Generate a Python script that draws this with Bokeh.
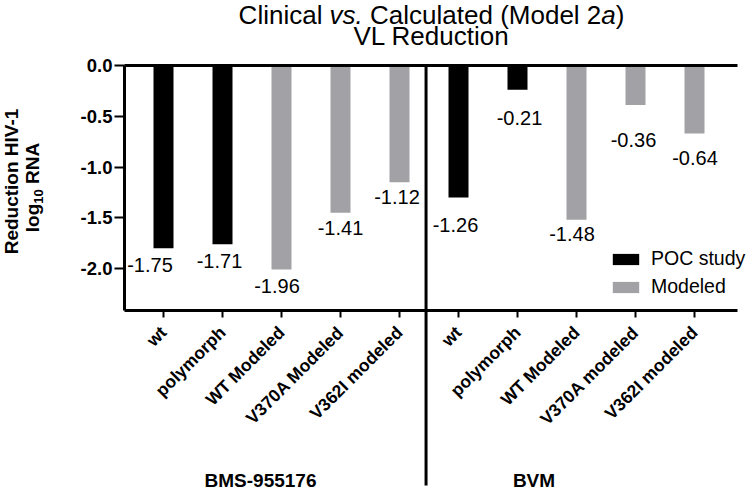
import math
from bokeh.plotting import figure
from bokeh.models import (Range1d, LinearAxis, FixedTicker, PrintfTickFormatter,
                          Legend, LegendItem, ColumnDataSource, Grid)
from bokeh.core.properties import value
from bokeh.embed import file_html
from bokeh.resources import INLINE

# ---------------- data ----------------
categories = ["wt", "polymorph", "WT Modeled", "V370A Modeled", "V362I modeled",
              "wt", "polymorph", "WT Modeled", "V370A modeled", "V362I modeled"]
groups = ["BMS-955176", "BVM"]
series = ["POC study", "POC study", "Modeled", "Modeled", "Modeled",
          "POC study", "POC study", "Modeled", "Modeled", "Modeled"]
bar_values = [-1.80, -1.76, -2.01, -1.45, -1.15, -1.30, -0.24, -1.52, -0.39, -0.67]
value_labels = ["-1.75", "-1.71", "-1.96", "-1.41", "-1.12",
                "-1.26", "-0.21", "-1.48", "-0.36", "-0.64"]
y_ticks = [0.0, -0.5, -1.0, -1.5, -2.0]
series_names = ["POC study", "Modeled"]
series_colors = ["#000000", "#A2A2A6"]

# ---------------- layout (reference pixel frame) ----------------
W, H = 748, 489
X0_REF, XU_REF = 163.0, 59.0      # first category tick, px per category
Y0_REF, YU_REF = 65.0, 101.5      # zero line, px per unit


def rx(X):
    return (X - X0_REF) / XU_REF


def ry(Y):
    return -(Y - Y0_REF) / YU_REF


FONT = "Liberation Sans"
positions = list(range(len(categories)))

p = figure(width=W, height=H, output_backend="svg", toolbar_location=None,
           x_range=Range1d(rx(0), rx(W)), y_range=Range1d(ry(H), ry(0)),
           x_axis_location=None, y_axis_location=None, title=None,
           min_border=0, min_border_left=0, min_border_right=0,
           min_border_top=0, min_border_bottom=0, outline_line_color=None)
p.background_fill_color = "white"
p.border_fill_color = "white"
p.center = [r for r in p.center if not isinstance(r, Grid)]
p.renderers = [r for r in p.renderers if not isinstance(r, Grid)]

# bars
renderers = []
for name, color in zip(series_names, series_colors):
    idx = [i for i, s in enumerate(series) if s == name]
    src = ColumnDataSource(dict(x=[positions[i] for i in idx],
                                v=[bar_values[i] for i in idx]))
    r = p.vbar(x="x", top=0, bottom="v", width=20 / XU_REF, source=src,
               fill_color=color, line_color=None)
    renderers.append(r)

# value labels
label_dx = [-13.5, -3, -4.5, 0, -2.5, -3, 2, -4.5, -2, 0.5]
label_dy = [17, 17, 16, 15, 14.5, 28, 28, 14, 35, 24]
p.text(x=positions, y=bar_values, text=value_labels,
       x_offset=label_dx, y_offset=label_dy,
       text_font=value(FONT), text_font_size="20px", text_color="black",
       text_align="center", text_baseline="middle")

# zero line and group divider
p.segment(x0=[rx(124)], y0=[0], x1=[rx(737)], y1=[0], line_color="black", line_width=3)
p.segment(x0=[4.45], y0=[0], x1=[4.45], y1=[ry(485)], line_color="black", line_width=3)

# y axis
yaxis = LinearAxis(fixed_location=rx(124), bounds=(ry(310), 0),
                   ticker=FixedTicker(ticks=y_ticks),
                   formatter=PrintfTickFormatter(format="%.1f"),
                   axis_line_width=3, axis_line_color="black",
                   major_tick_line_width=2, major_tick_out=10, major_tick_in=0,
                   minor_tick_line_color=None,
                   major_label_text_font=FONT, major_label_text_font_style="bold",
                   major_label_text_font_size="18.5px", major_label_standoff=2,
                   major_label_text_color="black")
p.add_layout(yaxis, "left")

# x axis
xaxis = LinearAxis(fixed_location=ry(310), bounds=(rx(124), rx(737)),
                   ticker=FixedTicker(ticks=positions),
                   major_label_overrides={i: c for i, c in zip(positions, categories)},
                   major_label_orientation=math.pi / 4,
                   axis_line_width=3, axis_line_color="black",
                   major_tick_line_width=2, major_tick_out=7, major_tick_in=0,
                   minor_tick_line_color=None,
                   major_label_text_font=FONT, major_label_text_font_style="bold",
                   major_label_text_font_size="17.5px", major_label_standoff=12,
                   major_label_text_color="black")
p.add_layout(xaxis, "below")

# group labels
p.text(x=[rx(260), rx(533.5)], y=[ry(479.5), ry(479.5)], text=groups,
       text_font=value(FONT), text_font_style="bold", text_font_size="19px",
       text_align="center", text_baseline="middle", text_color="black")

# ---- text width helpers (Arial / Liberation Sans metrics) ----
REG = {'C': 722, 'l': 222, 'i': 222, 'n': 556, 'c': 500, 'a': 556, ' ': 278, 'v': 500,
       's': 500, '.': 278, 'u': 556, 't': 278, 'e': 556, 'd': 556, '(': 333, 'M': 833,
       'o': 556, '2': 556, ')': 333}
BOLD = {'l': 278, 'o': 611, 'g': 611, '1': 556, '0': 556, ' ': 278, 'R': 722, 'N': 722, 'A': 722}


def tw(s, size, table):
    return sum(table[ch] for ch in s) * size / 1000.0


def lead(s, size, table):
    n = len(s) - len(s.lstrip(" "))
    return n * table[' '] * size / 1000.0


# ---- title (mixed upright / italic pieces) ----
title_size = 26.0
title_runs = ["Clinical ", "vs.", " Calculated (Model 2", "a", ")"]
title_styles = ["normal", "italic", "normal", "italic", "normal"]
widths = [tw(s, title_size, REG) for s in title_runs]
acc = -sum(widths) / 2
offs = []
for s, w_ in zip(title_runs, widths):
    offs.append(acc + lead(s, title_size, REG))
    acc += w_
tcx = rx(431)
p.text(x=[tcx] * len(title_runs), y=[ry(14)] * len(title_runs),
       text=[s.strip() for s in title_runs],
       x_offset=offs, text_font=value(FONT), text_font_style=title_styles,
       text_font_size="%.1fpx" % title_size, text_align="left", text_baseline="middle",
       text_color="black")
p.text(x=[tcx], y=[ry(35)], text=["VL Reduction"], text_font=value(FONT),
       text_font_size="%.1fpx" % title_size, text_align="center",
       text_baseline="middle", text_color="black")

# ---- y axis title (rotated, with subscript) ----
ysize = 19.0
p.text(x=[rx(10.5)], y=[ry(181)], text=["Reduction HIV-1"], angle=math.pi / 2,
       text_font=value(FONT), text_font_style="bold", text_font_size="%.1fpx" % ysize,
       text_align="center", text_baseline="middle", text_color="black")
sub_size = 13.0
l2 = ["log", "10", " RNA"]
l2_sizes = [ysize, sub_size, ysize]
l2_w = [tw(s, sz, BOLD) for s, sz in zip(l2, l2_sizes)]
acc = sum(l2_w) / 2
yoffs = []
for s, sz, w_ in zip(l2, l2_sizes, l2_w):
    yoffs.append(acc - lead(s, sz, BOLD))
    acc -= w_
p.text(x=[rx(31.5)] * 2, y=[ry(187)] * 2, text=[l2[0], l2[2].strip()], angle=math.pi / 2,
       y_offset=[yoffs[0], yoffs[2]], text_font=value(FONT), text_font_style="bold",
       text_font_size="%.1fpx" % ysize, text_align="left", text_baseline="middle",
       text_color="black")
p.text(x=[rx(31.5)], y=[ry(187)], text=[l2[1]], angle=math.pi / 2,
       x_offset=[6], y_offset=[yoffs[1]], text_font=value(FONT), text_font_style="bold",
       text_font_size="%.1fpx" % sub_size, text_align="left", text_baseline="middle",
       text_color="black")

# legend
legend = Legend(items=[LegendItem(label=n, renderers=[r]) for n, r in zip(series_names, renderers)],
                location=(609, H - 298), orientation="vertical",
                glyph_width=33, glyph_height=14, label_standoff=9, spacing=5,
                padding=0, margin=0, border_line_color=None, background_fill_alpha=0,
                label_text_font=FONT, label_text_font_size="19.5px", label_text_color="black")
p.add_layout(legend, "center")

open("out.html", "w").write(file_html(p, INLINE))
